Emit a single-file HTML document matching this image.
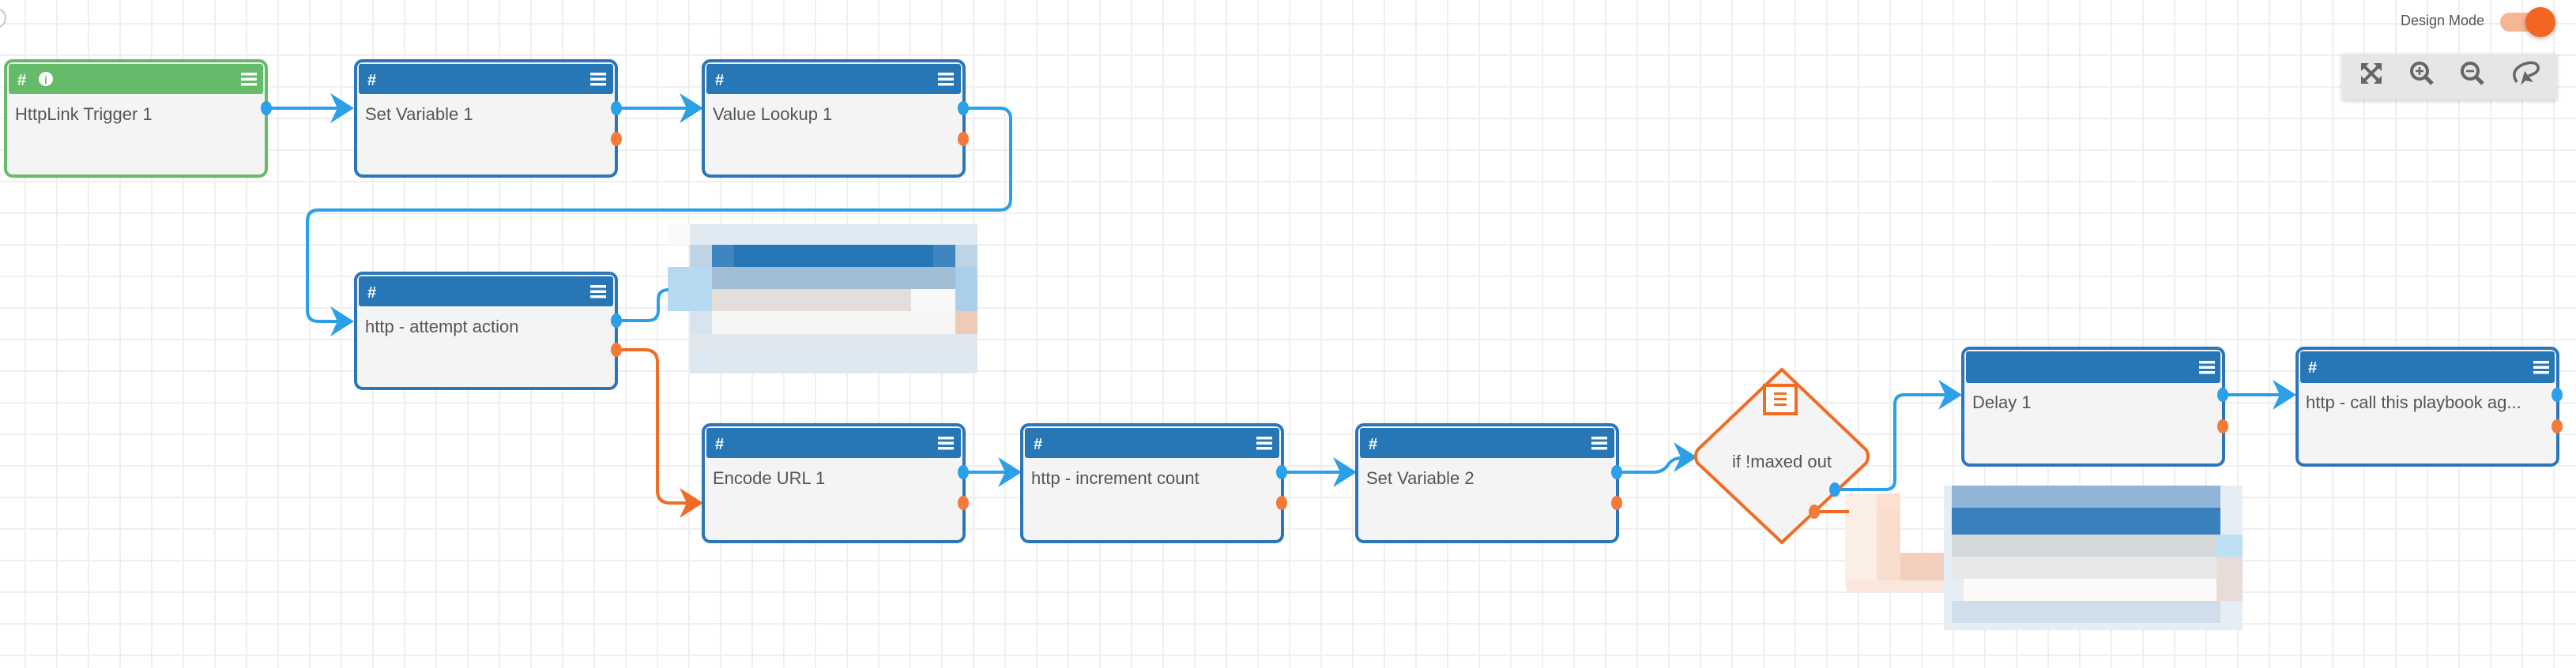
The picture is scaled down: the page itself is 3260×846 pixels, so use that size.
<!DOCTYPE html>
<html><head><meta charset="utf-8"><style>
html,body{margin:0;padding:0;width:3260px;height:846px;overflow:hidden;background:#fff;}
.bg{position:absolute;left:0;top:0;width:3260px;height:846px;
background-image:linear-gradient(to right,#efefef 0,#efefef 2px,transparent 2px),linear-gradient(to bottom,#efefef 0,#efefef 2px,transparent 2px);
background-size:40px 40px;background-position:31px 29px;}
.blur{position:absolute;}
.blur div{position:absolute;}
svg{position:absolute;left:0;top:0;}
text{font-family:"Liberation Sans",sans-serif;}
</style></head><body>
<div class="bg"></div>

<div class="blur" style="left:845px;top:284px;width:392px;height:190px;">
<div style="left:0;top:0;width:392px;height:26px;background:#dfeaf3"></div>
<div style="left:0;top:0;width:28px;height:26px;background:#f8fafc"></div>
<div style="left:28px;top:26px;width:364px;height:28px;background:#bcd4e6"></div>
<div style="left:56px;top:26px;width:308px;height:28px;background:#3f86c0"></div>
<div style="left:84px;top:26px;width:252px;height:28px;background:#2777b6"></div>
<div style="left:0;top:54px;width:392px;height:28px;background:#a0bdd4"></div>
<div style="left:0;top:54px;width:56px;height:56px;background:#b5daf2"></div>
<div style="left:364px;top:54px;width:28px;height:56px;background:#a9cfea"></div>
<div style="left:56px;top:82px;width:308px;height:28px;background:#e4deda"></div>
<div style="left:308px;top:82px;width:56px;height:28px;background:#f8f8f6"></div>
<div style="left:28px;top:110px;width:364px;height:29px;background:#f5f5f4"></div>
<div style="left:28px;top:110px;width:28px;height:29px;background:#d8e4ed"></div>
<div style="left:364px;top:110px;width:28px;height:29px;background:#edcbb6"></div>
<div style="left:28px;top:139px;width:364px;height:28px;background:#e0e8ef"></div>
<div style="left:28px;top:167px;width:364px;height:22px;background:#dde9f2"></div>
</div>

<div class="blur" style="left:2335px;top:615px;width:503px;height:183px;">
<div style="left:0;top:10px;width:60px;height:120px;background:#fbeee6"></div>
<div style="left:40px;top:10px;width:30px;height:20px;background:#fde0d2"></div>
<div style="left:40px;top:30px;width:30px;height:90px;background:#f9ddcc"></div>
<div style="left:70px;top:85px;width:60px;height:50px;background:#f3d0bd"></div>
<div style="left:2px;top:120px;width:130px;height:15px;background:#fae6dc"></div>
<div style="left:125px;top:0;width:378px;height:183px;background:#e6eef5"></div>
<div style="left:135px;top:0;width:340px;height:28px;background:#90b6d7"></div>
<div style="left:135px;top:28px;width:340px;height:34px;background:#3a80bd"></div>
<div style="left:135px;top:62px;width:368px;height:28px;background:#d6d9dc"></div>
<div style="left:470px;top:62px;width:33px;height:28px;background:#bde0f5"></div>
<div style="left:135px;top:90px;width:368px;height:28px;background:#e8e8e8"></div>
<div style="left:470px;top:90px;width:33px;height:56px;background:#e8dcd8"></div>
<div style="left:150px;top:118px;width:320px;height:28px;background:#faf9f7"></div>
<div style="left:135px;top:146px;width:340px;height:28px;background:#cfdeea"></div>
</div>

<svg width="3260" height="846" viewBox="0 0 3260 846">
<defs>
<g id="ab"><path d="M0 0 L-30 -19 L-21 0 L-30 19 Z" fill="#2b9fe8"/></g>
<g id="ao"><path d="M0 0 L-30 -19 L-21 0 L-30 19 Z" fill="#f26b22"/></g>
<g id="menu"><rect x="0" y="-8" width="20" height="3.5" fill="#fff"/><rect x="0" y="-1.5" width="20" height="3.5" fill="#fff"/><rect x="0" y="5" width="20" height="3.5" fill="#fff"/></g>
</defs>
<circle cx="-5" cy="23" r="12" fill="#fff" stroke="#c8c8c8" stroke-width="2"/>

<g fill="none" stroke-width="4">
<path d="M338 137 H428" stroke="#2b9fe8"/>
<path d="M780 137 H870" stroke="#2b9fe8"/>
<path d="M1218 137 H1265 Q1279 137 1279 151 V252 Q1279 266 1265 266 H403 Q389 266 389 280 V393 Q389 407 403 407 H428" stroke="#2b9fe8"/>
<path d="M780 406 H820 Q833 406 833 393 V380 Q833 367 846 367" stroke="#2b9fe8"/>
<path d="M780 443 H816 Q832 443 832 459 V621 Q832 637 848 637 H870" stroke="#f26b22"/>
<path d="M1218 598 H1273" stroke="#2b9fe8"/>
<path d="M1622 598 H1697" stroke="#2b9fe8"/>
<path d="M2046 598 H2092 Q2104 598 2110 590 Q2116 580 2128 580 H2130" stroke="#2b9fe8"/>
<path d="M2322 620 H2386 Q2398 620 2398 608 V512 Q2398 500 2410 500 H2463" stroke="#2b9fe8"/>
<path d="M2814 500 H2886" stroke="#2b9fe8"/>
<path d="M2296 648 H2340" stroke="#f26b22"/>
</g>
<use href="#ab" x="448" y="137"/>
<use href="#ab" x="890" y="137"/>
<use href="#ab" x="448" y="407"/>
<use href="#ao" x="890" y="637"/>
<use href="#ab" x="1293" y="598"/>
<use href="#ab" x="1717" y="598"/>
<use href="#ab" x="2148" y="579"/>
<use href="#ab" x="2483" y="500"/>
<use href="#ab" x="2906" y="500"/>

<rect x="7" y="77" width="330" height="146" rx="9" fill="#f4f4f4" stroke="#66bb6a" stroke-width="4"/>
<rect x="11" y="81" width="322" height="38" rx="3" fill="#66bb6a"/>
<text x="22" y="108" font-size="20" font-weight="bold" fill="#fff">#</text>
<circle cx="58" cy="100" r="9" fill="#fff"/><text x="58" y="106" font-size="14" font-weight="bold" fill="#66bb6a" text-anchor="middle">i</text>
<use href="#menu" x="305" y="100"/>
<text x="19" y="152" font-size="22" fill="#555">HttpLink Trigger 1</text>

<rect x="450" y="77" width="330" height="146" rx="9" fill="#f4f4f4" stroke="#2a76b8" stroke-width="4"/>
<rect x="454" y="81" width="322" height="38" rx="3" fill="#2777b6"/>
<text x="465" y="108" font-size="20" font-weight="bold" fill="#fff">#</text><use href="#menu" x="747" y="100"/>
<text x="462" y="152" font-size="22" fill="#555">Set Variable 1</text>

<rect x="890" y="77" width="330" height="146" rx="9" fill="#f4f4f4" stroke="#2a76b8" stroke-width="4"/>
<rect x="894" y="81" width="322" height="38" rx="3" fill="#2777b6"/>
<text x="905" y="108" font-size="20" font-weight="bold" fill="#fff">#</text><use href="#menu" x="1187" y="100"/>
<text x="902" y="152" font-size="22" fill="#555">Value Lookup 1</text>

<rect x="450" y="346" width="330" height="146" rx="9" fill="#f4f4f4" stroke="#2a76b8" stroke-width="4"/>
<rect x="454" y="350" width="322" height="38" rx="3" fill="#2777b6"/>
<text x="465" y="377" font-size="20" font-weight="bold" fill="#fff">#</text><use href="#menu" x="747" y="369"/>
<text x="462" y="421" font-size="22" fill="#555">http - attempt action</text>

<rect x="890" y="538" width="330" height="148" rx="9" fill="#f4f4f4" stroke="#2a76b8" stroke-width="4"/>
<rect x="894" y="542" width="322" height="38" rx="3" fill="#2777b6"/>
<text x="905" y="569" font-size="20" font-weight="bold" fill="#fff">#</text><use href="#menu" x="1187" y="561"/>
<text x="902" y="613" font-size="22" fill="#555">Encode URL 1</text>

<rect x="1293" y="538" width="330" height="148" rx="9" fill="#f4f4f4" stroke="#2a76b8" stroke-width="4"/>
<rect x="1297" y="542" width="322" height="38" rx="3" fill="#2777b6"/>
<text x="1308" y="569" font-size="20" font-weight="bold" fill="#fff">#</text><use href="#menu" x="1590" y="561"/>
<text x="1305" y="613" font-size="22" fill="#555">http - increment count</text>

<rect x="1717" y="538" width="330" height="148" rx="9" fill="#f4f4f4" stroke="#2a76b8" stroke-width="4"/>
<rect x="1721" y="542" width="322" height="38" rx="3" fill="#2777b6"/>
<text x="1732" y="569" font-size="20" font-weight="bold" fill="#fff">#</text><use href="#menu" x="2014" y="561"/>
<text x="1729" y="613" font-size="22" fill="#555">Set Variable 2</text>

<rect x="2484" y="441" width="330" height="148" rx="9" fill="#f4f4f4" stroke="#2a76b8" stroke-width="4"/>
<rect x="2488" y="445" width="322" height="40" rx="3" fill="#2777b6"/>
<use href="#menu" x="2783" y="465"/>
<text x="2496" y="517" font-size="22" fill="#555">Delay 1</text>

<rect x="2907" y="441" width="330" height="148" rx="9" fill="#f4f4f4" stroke="#2a76b8" stroke-width="4"/>
<rect x="2911" y="445" width="322" height="40" rx="3" fill="#2777b6"/>
<text x="2921" y="472" font-size="20" font-weight="bold" fill="#fff">#</text><use href="#menu" x="3206" y="465"/>
<text x="2918" y="517" font-size="22" fill="#555">http - call this playbook ag...</text>

<path d="M2255 468 L2362 570 Q2366 578 2362 586 L2255 687 L2148 586 Q2144 578 2148 570 Z" fill="#f4f4f4" stroke="#f26b22" stroke-width="4" stroke-linejoin="round"/>
<rect x="2233" y="488" width="40" height="36" fill="#fff" stroke="#f26b22" stroke-width="4"/>
<rect x="2245" y="497" width="16" height="3" fill="#f26b22"/><rect x="2245" y="504" width="16" height="3" fill="#f26b22"/><rect x="2245" y="511" width="16" height="3" fill="#f26b22"/>
<text x="2255" y="592" font-size="22" fill="#555" text-anchor="middle">if !maxed out</text>

<g fill="#2b9fe8">
<ellipse cx="337" cy="137" rx="7" ry="9"/>
<ellipse cx="780" cy="137" rx="7" ry="9"/>
<ellipse cx="1219" cy="137" rx="7" ry="9"/>
<ellipse cx="780" cy="406" rx="7" ry="9"/>
<ellipse cx="1219" cy="598" rx="7" ry="9"/>
<ellipse cx="1622" cy="598" rx="7" ry="9"/>
<ellipse cx="2046" cy="598" rx="7" ry="9"/>
<ellipse cx="2322" cy="620" rx="7" ry="9"/>
<ellipse cx="2813" cy="500" rx="7" ry="9"/>
<ellipse cx="3236" cy="500" rx="7" ry="9"/>
</g>
<g fill="#f47a3a">
<ellipse cx="780" cy="176" rx="7" ry="9"/>
<ellipse cx="1219" cy="176" rx="7" ry="9"/>
<ellipse cx="780" cy="443" rx="7" ry="9"/>
<ellipse cx="1219" cy="637" rx="7" ry="9"/>
<ellipse cx="1622" cy="637" rx="7" ry="9"/>
<ellipse cx="2046" cy="637" rx="7" ry="9"/>
<ellipse cx="2296" cy="648" rx="7" ry="9"/>
<ellipse cx="2813" cy="540" rx="7" ry="9"/>
<ellipse cx="3236" cy="540" rx="7" ry="9"/>
</g>

<text x="3038" y="32" font-size="18" fill="#555">Design Mode</text>
<rect x="3164" y="16" width="56" height="24" rx="12" fill="#f8b596"/>
<circle cx="3215" cy="28" r="19" fill="#f26522" style="filter:drop-shadow(0 2px 3px rgba(0,0,0,.3))"/>

<rect x="2964" y="68" width="272" height="58" fill="#e6e6e6" style="filter:drop-shadow(0 2px 3px rgba(0,0,0,.2))"/>
<g fill="#666" stroke="#666">
<g stroke-width="4" fill="none"><path d="M2990 82 L3012 104 M3012 82 L2990 104"/></g>
<path d="M2988 80 H2998 L2988 90 Z M3014 80 V90 L3004 80 Z M2988 106 V96 L2998 106 Z M3014 106 H3004 L3014 96 Z" stroke="none"/>
<circle cx="3062" cy="90" r="10" fill="none" stroke-width="4"/><path d="M3069 97 L3078 106" stroke-width="5" fill="none"/><path d="M3057 90 H3067 M3062 85 V95" stroke-width="2.5" fill="none"/>
<circle cx="3126" cy="90" r="10" fill="none" stroke-width="4"/><path d="M3133 97 L3142 106" stroke-width="5" fill="none"/><path d="M3121 90 H3131" stroke-width="2.5" fill="none"/>
<path d="M3185 104 Q3176 90 3192 82 Q3208 76 3212 84 Q3214 92 3200 96" stroke-width="3.5" fill="none"/>
<path d="M3195 90 L3206 104 L3196 102 L3190 108 Z" stroke="none"/>
</g>
</svg>
</body></html>
